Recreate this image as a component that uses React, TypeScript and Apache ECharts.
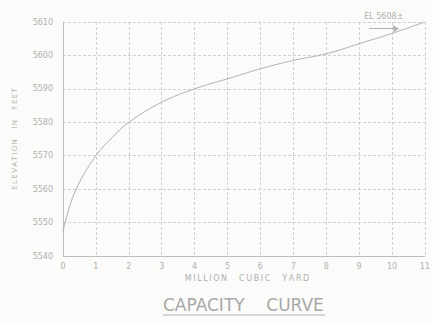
import React, { useEffect, useRef } from "react";
import * as echarts from "echarts";

const capacity = [0, 0.06, 0.4, 1, 1.5, 2, 3, 4, 5, 6, 7, 8, 9, 10, 11];
const elevation = [5547, 5550, 5560, 5570, 5575.5, 5580, 5586, 5590, 5593, 5596, 5598.5, 5600.5, 5603.5, 5606.6, 5610];
const xTicks = [0, 1, 2, 3, 4, 5, 6, 7, 8, 9, 10, 11];
const yTicks = [5540, 5550, 5560, 5570, 5580, 5590, 5600, 5610];
const elLabel = "EL 5608±";
const elMark = [[9.3, 5608], [10.2, 5608]];

const spaced = (s: string) => s.split("").join("\u2009");
const gap = "\u2003\u2002";

export default function App() {
  const ref = useRef<HTMLDivElement>(null);
  useEffect(() => {
    const chart = echarts.init(ref.current!, null, { renderer: "svg" });
    const font = "DejaVu Sans";
    chart.setOption({
      animation: false,
      backgroundColor: "#fbfbf9",
      textStyle: { fontFamily: font },
      grid: { left: 63, top: 22, right: 0, bottom: 66 },
      xAxis: {
        type: "value",
        min: 0,
        max: 11,
        interval: 1,
        name: spaced("MILLION") + gap + spaced("CUBIC") + gap + spaced("YARD"),
        nameLocation: "middle",
        nameGap: 17,
        nameTextStyle: { color: "#b0b0b0", fontSize: 8, fontFamily: font, padding: [0, 0, 0, 6] },
        axisLine: { show: true, lineStyle: { color: "#bdbdbd", width: 1 } },
        axisTick: { show: false },
        axisLabel: {
          color: "#b0b0b0",
          fontSize: 8,
          margin: 6,
          formatter: (v: number) => (xTicks.includes(v) ? String(v) : ""),
        },
        splitLine: { show: true, lineStyle: { color: "#d0d0d0", type: [3, 2], width: 1 } },
      },
      yAxis: {
        type: "value",
        min: 5540,
        max: 5610,
        interval: 10,
        name: spaced("ELEVATION") + gap + spaced("IN") + gap + spaced("FEET"),
        nameLocation: "middle",
        nameGap: 45,
        nameRotate: 90,
        nameTextStyle: { color: "#b0b0b0", fontSize: 7, fontFamily: font },
        axisLine: { show: true, lineStyle: { color: "#bdbdbd", width: 1 } },
        axisTick: { show: false },
        axisLabel: {
          color: "#b0b0b0",
          fontSize: 8,
          margin: 10,
          formatter: (v: number) => (yTicks.includes(v) ? String(v) : ""),
        },
        splitLine: { show: true, lineStyle: { color: "#d0d0d0", type: [3, 2], width: 1 } },
      },
      series: [
        {
          type: "line",
          data: capacity.map((c, i) => [c, elevation[i]]),
          smooth: 0.4,
          showSymbol: false,
          lineStyle: { color: "#b0b0b0", width: 1 },
          markLine: {
            silent: true,
            symbol: ["none", "arrow"],
            symbolSize: 6,
            lineStyle: { color: "#b0b0b0", width: 1, type: "solid" },
            label: {
              show: true,
              position: "middle",
              formatter: elLabel,
              color: "#b0b0b0",
              fontSize: 8,
              distance: 8,
            },
            data: [[{ coord: elMark[0] }, { coord: elMark[1] }]],
          },
        },
      ],
      graphic: [
        {
          type: "text",
          left: 163,
          top: 296,
          style: {
            text: "CAPACITY    CURVE",
            fill: "#a8a8a8",
            font: "17px DejaVu Sans",
          },
        },
        {
          type: "line",
          shape: { x1: 163, y1: 315, x2: 325, y2: 315 },
          style: { stroke: "#b0b0b0", lineWidth: 1.2 },
        },
      ],
    });
    return () => chart.dispose();
  }, []);
  return <div ref={ref} style={{ width: 433, height: 322, position: "absolute", left: 0, top: 0 }} />;
}
